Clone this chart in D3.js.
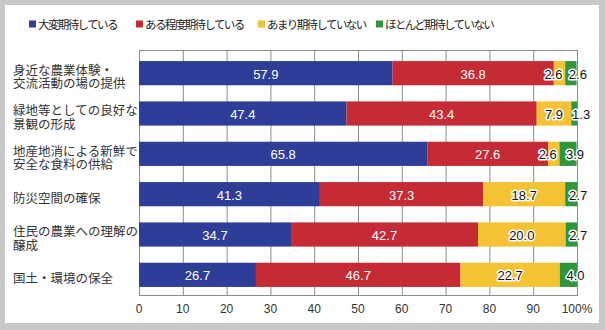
<!DOCTYPE html>
<html lang="ja">
<head>
    <meta charset="UTF-8">
    <title>帯グラフ</title>
    <script src="https://cdn.jsdelivr.net/npm/d3@7/dist/d3.min.js"></script>
    <style>
        body { margin: 0; background: #c8c8c8; }
        text { font-family: "Liberation Sans", Arial, sans-serif; }
        .jp { font-family: "Noto Sans CJK JP", sans-serif; }
    </style>
</head>
<body>
<script>
    let width = 605, height = 330;

    // 項目（2行に分けて表示）
    let categories = [
        ['身近な農業体験・', '交流活動の場の提供'],
        ['緑地等としての良好な', '景観の形成'],
        ['地産地消による新鮮で', '安全な食料の供給'],
        ['防災空間の確保'],
        ['住民の農業への理解の', '醸成'],
        ['国土・環境の保全']
    ];
    let seriesNames = ['大変期待している', 'ある程度期待している', 'あまり期待していない', 'ほとんど期待していない'];
    let verySeries   = [57.9, 47.4, 65.8, 41.3, 34.7, 26.7];
    let somewhat     = [36.8, 43.4, 27.6, 37.3, 42.7, 46.7];
    let notMuch      = [2.6, 7.9, 2.6, 18.7, 20.0, 22.7];
    let hardly       = [2.6, 1.3, 3.9, 2.7, 2.7, 4.0];
    let tickValues   = [0, 10, 20, 30, 40, 50, 60, 70, 80, 90, 100];

    let colors = ['#2e3d97', '#c52a35', '#f4c232', '#2e963b'];

    let svg = d3.select('body').append('svg')
        .attr('width', width)
        .attr('height', height)
        .style('display', 'block');

    // 白いパネル
    svg.append('rect')
        .attr('x', 5).attr('y', 5)
        .attr('width', 594).attr('height', 318)
        .attr('fill', '#fff');

    // 積み上げ用のデータ
    let rows = categories.map(function (c, i) {
        return {idx: i, s0: verySeries[i], s1: somewhat[i], s2: notMuch[i], s3: hardly[i]};
    });
    let keys = ['s0', 's1', 's2', 's3'];
    let stacked = d3.stack().keys(keys)(rows);

    let x = d3.scaleLinear().domain([0, 100]).range([139, 577]);
    let y = d3.scaleBand()
        .domain(d3.range(categories.length))
        .range([53, 295])
        .paddingInner(0.4)
        .paddingOuter(0.2);

    // グリッド線
    svg.append('g').selectAll('line')
        .data(tickValues)
        .enter().append('line')
        .attr('x1', d => x(d) + 0.5).attr('x2', d => x(d) + 0.5)
        .attr('y1', 50).attr('y2', 295)
        .attr('stroke', '#8c8c8c');
    svg.append('line')
        .attr('x1', x(0)).attr('x2', x(100) + 1)
        .attr('y1', 50.5).attr('y2', 50.5)
        .attr('stroke', '#8c8c8c');
    svg.append('line')
        .attr('x1', x(0)).attr('x2', x(100) + 1)
        .attr('y1', 295.5).attr('y2', 295.5)
        .attr('stroke', '#8c8c8c');

    // 項目ラベル
    let catG = svg.append('g');
    categories.forEach(function (lines, i) {
        let cy = y(i) + y.bandwidth() / 2 + 3;
        let lh = 13.5;
        let t = catG.append('text')
            .attr('class', 'jp')
            .attr('x', 13)
            .attr('font-size', '12.5px')
            .attr('fill', '#333');
        lines.forEach(function (l, j) {
            t.append('tspan')
                .attr('x', 13)
                .attr('y', cy + (j - (lines.length - 1) / 2) * lh)
                .attr('dominant-baseline', 'central')
                .text(l);
        });
    });

    // 棒
    let layers = svg.append('g').selectAll('g')
        .data(stacked)
        .enter().append('g')
        .attr('fill', (d, i) => colors[i]);
    layers.selectAll('rect')
        .data(d => d)
        .enter().append('rect')
        .attr('x', d => x(d[0]))
        .attr('y', d => y(d.data.idx))
        .attr('width', d => x(Math.min(d[1], 100)) - x(d[0]))
        .attr('height', y.bandwidth());

    // 数値ラベル
    let labelG = svg.append('g');
    stacked.forEach(function (layer, si) {
        layer.forEach(function (d) {
            let v = d.data[keys[si]];
            let cx = (x(d[0]) + x(Math.min(d[1], 100))) / 2;
            let w = x(d[1]) - x(d[0]);
            // 細い区間は重ならないよう左右にずらす
            if (si === 3) cx += 7;
            else if (si === 2 && w < 20) cx -= 6;
            let t = labelG.append('text')
                .attr('x', cx)
                .attr('y', y(d.data.idx) + y.bandwidth() / 2 + 1)
                .attr('text-anchor', 'middle')
                .attr('dominant-baseline', 'central')
                .attr('font-size', '13px')
                .text(v.toFixed(1));
            if (si < 2) {
                t.attr('fill', '#fff');
            } else {
                t.attr('fill', '#111')
                    .attr('stroke', '#fff')
                    .attr('stroke-width', 3)
                    .attr('stroke-linejoin', 'round')
                    .attr('paint-order', 'stroke');
            }
        });
    });

    // 目盛りラベル
    svg.append('g').selectAll('text')
        .data(tickValues)
        .enter().append('text')
        .attr('x', d => x(d))
        .attr('y', 309)
        .attr('text-anchor', 'middle')
        .attr('dominant-baseline', 'central')
        .attr('font-size', '12px')
        .attr('fill', '#333')
        .text(d => d === 100 ? '100%' : d);

    // 凡例
    let legendX = [29, 136, 258, 376];
    let legend = svg.append('g').selectAll('g')
        .data(seriesNames)
        .enter().append('g')
        .attr('transform', (d, i) => 'translate(' + legendX[i] + ',24)');
    legend.append('rect')
        .attr('x', 0).attr('y', -3.5)
        .attr('width', 7).attr('height', 7)
        .attr('fill', (d, i) => colors[i]);
    legend.append('text')
        .attr('class', 'jp')
        .attr('x', 9)
        .attr('y', 0)
        .attr('dominant-baseline', 'central')
        .attr('font-size', '11.5px')
        .attr('letter-spacing', '-1.6px')
        .attr('fill', '#222')
        .text(d => d);
</script>
</body>
</html>
